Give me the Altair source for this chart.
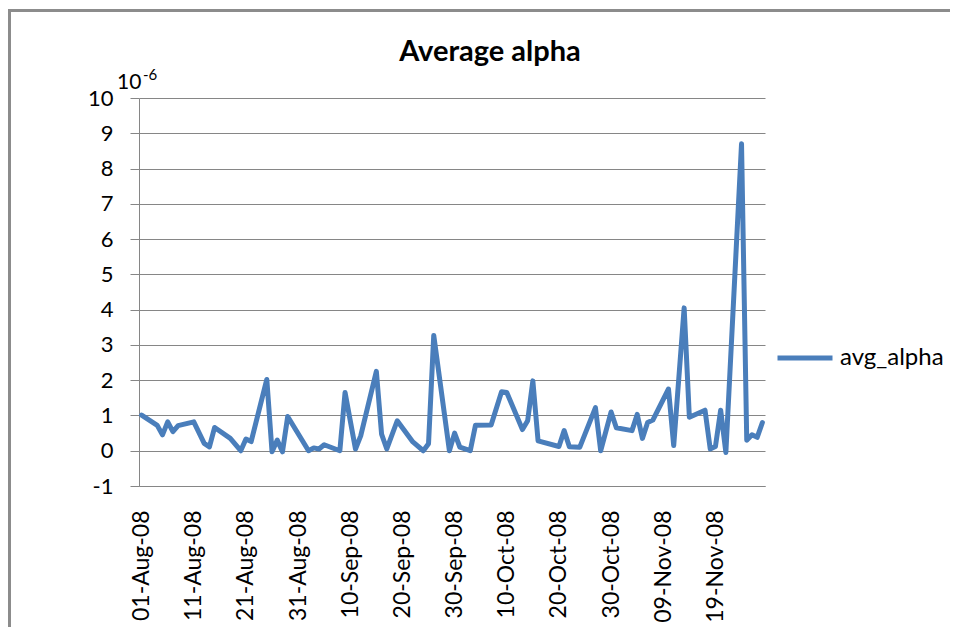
import altair as alt
import pandas as pd

# ---- data ----
dates = [
    "2008-08-01", "2008-08-04", "2008-08-05", "2008-08-06", "2008-08-07", "2008-08-08",
    "2008-08-11", "2008-08-13", "2008-08-14", "2008-08-15", "2008-08-18", "2008-08-20",
    "2008-08-21", "2008-08-22", "2008-08-25", "2008-08-26", "2008-08-27", "2008-08-28",
    "2008-08-29", "2008-09-02", "2008-09-03", "2008-09-04", "2008-09-05", "2008-09-08",
    "2008-09-09", "2008-09-11", "2008-09-12", "2008-09-15", "2008-09-16", "2008-09-17",
    "2008-09-19", "2008-09-22", "2008-09-24", "2008-09-25", "2008-09-26", "2008-09-29",
    "2008-09-30", "2008-10-01", "2008-10-03", "2008-10-04", "2008-10-07", "2008-10-09",
    "2008-10-10", "2008-10-13", "2008-10-14", "2008-10-15", "2008-10-16", "2008-10-20",
    "2008-10-21", "2008-10-22", "2008-10-24", "2008-10-27", "2008-10-28", "2008-10-30",
    "2008-10-31", "2008-11-03", "2008-11-04", "2008-11-05", "2008-11-06", "2008-11-07",
    "2008-11-10", "2008-11-11", "2008-11-13", "2008-11-14", "2008-11-17", "2008-11-18",
    "2008-11-19", "2008-11-20", "2008-11-21", "2008-11-24", "2008-11-25", "2008-11-26",
    "2008-11-27", "2008-11-28",
]
values = [
    1.01, 0.72, 0.45, 0.82, 0.54, 0.71,
    0.82, 0.21, 0.11, 0.66, 0.35, 0.00,
    0.33, 0.26, 2.02, -0.03, 0.30, -0.03,
    0.97, 0.00, 0.08, 0.05, 0.17, 0.00,
    1.65, 0.05, 0.42, 2.25, 0.47, 0.05,
    0.85, 0.25, 0.00, 0.20, 3.27, 0.00,
    0.50, 0.10, 0.00, 0.72, 0.73, 1.67,
    1.65, 0.60, 0.85, 1.98, 0.28, 0.12,
    0.57, 0.11, 0.10, 1.22, 0.00, 1.10,
    0.65, 0.57, 1.03, 0.35, 0.80, 0.87,
    1.75, 0.15, 4.05, 0.95, 1.15, 0.05,
    0.12, 1.15, -0.05, 8.70, 0.30, 0.45,
    0.38, 0.80,
]
series_name = "avg_alpha"
tick_dates = ["2008-08-01", "2008-08-11", "2008-08-21", "2008-08-31", "2008-09-10",
              "2008-09-20", "2008-09-30", "2008-10-10", "2008-10-20", "2008-10-30",
              "2008-11-09", "2008-11-19"]
y_ticks = list(range(-1, 11))
title_text = "Average alpha"
unit_base = "10"
unit_exp = "-6"

FONT = "Lato"
GRID = "#868686"
BLUE = "#4a7ebb"
FRAME = "#8c8c8c"


def dt(s, hours=0):
    y, m, d = (int(p) for p in s.split("-"))
    return alt.DateTime(year=y, month=m, date=d, hours=hours, utc=True)


df = pd.DataFrame({
    "date": [d + "T12:00:00Z" for d in dates],
    "value": values,
    "series": [series_name] * len(dates),
})

W, H = 626, 388

line = alt.Chart(df).mark_line(strokeWidth=5, strokeJoin="round", strokeCap="round").encode(
    x=alt.X(
        "date:T",
        scale=alt.Scale(type="utc", domain=[dt("2008-08-01"), dt("2008-11-29")]),
        axis=alt.Axis(
            values=[dt(t, 12) for t in tick_dates],
            labelExpr="utcFormat(datum.value, '%d-%b-%y')",
            labelAngle=270,
            labelFont=FONT,
            labelFontSize=23,
            labelColor="#000000",
            labelPadding=24,
            labelOverlap=False,
            ticks=False,
            grid=False,
            domainColor=GRID,
            domainWidth=1,
            title=None,
        ),
    ),
    y=alt.Y(
        "value:Q",
        scale=alt.Scale(domain=[-1, 10], nice=False, zero=False),
        axis=alt.Axis(
            values=y_ticks,
            labelExpr="'' + datum.value",
            grid=True,
            gridColor=GRID,
            gridWidth=1,
            domainColor=GRID,
            tickColor=GRID,
            tickSize=9,
            labelFont=FONT,
            labelFontSize=22,
            labelColor="#000000",
            labelPadding=17,
            title=None,
        ),
    ),
    color=alt.Color(
        "series:N",
        scale=alt.Scale(range=[BLUE]),
        legend=alt.Legend(
            title=None,
            orient="none",
            legendX=636,
            legendY=230,
            symbolType="stroke",
            symbolSize=3025,
            symbolStrokeWidth=5,
            labelFont=FONT,
            labelFontSize=24,
            labelColor="#000000",
            labelOffset=5,
            padding=0,
        ),
    ),
)

one = pd.DataFrame({"k": [0]})

frame_left = alt.Chart(one).mark_rule(stroke=FRAME, strokeWidth=3).encode(
    x=alt.value(-129.5), y=alt.value(-89), y2=alt.value(560)
)
frame_top = alt.Chart(one).mark_rule(stroke=FRAME, strokeWidth=3).encode(
    x=alt.value(-131), x2=alt.value(811), y=alt.value(-87.5)
)

title = alt.Chart(pd.DataFrame({"t": [title_text]})).mark_text(
    font=FONT, fontSize=29, fontWeight="bold", align="center", baseline="alphabetic", color="#000000"
).encode(text="t:N", x=alt.value(351), y=alt.value(-37))

unit1 = alt.Chart(pd.DataFrame({"t": [unit_base]})).mark_text(
    font=FONT, fontSize=21, align="left", baseline="alphabetic", color="#000000"
).encode(text="t:N", x=alt.value(-22), y=alt.value(-9))

unit2 = alt.Chart(pd.DataFrame({"t": [unit_exp]})).mark_text(
    font=FONT, fontSize=15, align="left", baseline="alphabetic", color="#000000"
).encode(text="t:N", x=alt.value(4), y=alt.value(-18))

chart = alt.layer(frame_left, frame_top, line, title, unit1, unit2).properties(
    width=W,
    height=H,
    autosize=alt.AutoSizeParams(type="none"),
    padding={"left": 131, "top": 90, "right": 185, "bottom": 141},
    background="#ffffff",
).configure_view(stroke=None)

chart.save("out.html", embed_options={"renderer": "svg", "actions": False})
